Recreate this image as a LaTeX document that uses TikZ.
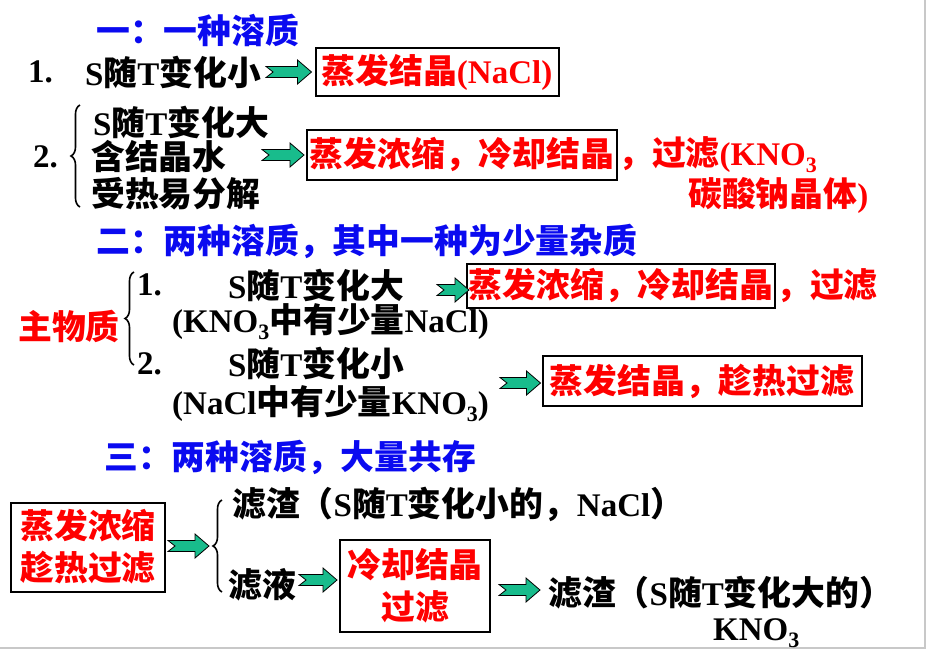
\documentclass[tikz,border=0pt]{standalone}
\usepackage{fontspec}
\setmainfont{Liberation Serif}
\newfontfamily\cjk[Scale=1.025]{Noto Sans CJK SC}
\usetikzlibrary{calc,decorations.pathreplacing}
\definecolor{arrowgreen}{RGB}{24,188,140}
\definecolor{titleblue}{RGB}{10,10,240}
\definecolor{slidegray}{RGB}{200,200,200}

% switch to the CJK font for Chinese characters
\XeTeXinterchartokenstate=1
\newXeTeXintercharclass\hanclass
\count255="20
\loop
  \XeTeXcharclass\count255=0
  \advance\count255 by 1
\ifnum\count255<"7F \repeat
\count255="3000
\loop
  \XeTeXcharclass\count255=\hanclass
  \advance\count255 by 1
\ifnum\count255<"A000 \repeat
\count255="FF00
\loop
  \XeTeXcharclass\count255=\hanclass
  \advance\count255 by 1
\ifnum\count255<"FFF0 \repeat
\XeTeXinterchartoks 0 \hanclass={\cjk}
\XeTeXinterchartoks 4095 \hanclass={\cjk}
\XeTeXinterchartoks \hanclass 0={\rmfamily}

\newcommand{\subthree}{\raisebox{-7pt}{\fontsize{22}{22}\selectfont 3}}
% notched block arrow from #1 to #2
\newcommand{\flowarrow}[2]{%
  \draw[blockarrow] let \p1=(#1), \p2=(#2) in
    (\x1,\y2+5.5pt) -- (\x2-14pt,\y2+5.5pt) -- (\x2-14pt,\y2+12pt) -- (\x2,\y2)
    -- (\x2-14pt,\y2-12pt) -- (\x2-14pt,\y2-5.5pt) -- (\x1,\y2-5.5pt) -- (\x1+7pt,\y2) -- cycle;}

\begin{document}
\begin{tikzpicture}[x=1pt,y=-1pt,
    every node/.style={inner sep=0pt,anchor=west,font=\bfseries\fontsize{33}{42}\selectfont},
    heading/.style={text=titleblue},
    redtxt/.style={text=red},
    result/.style={draw,line width=2pt,text=red,anchor=center,align=center},
    blockarrow/.style={fill=arrowgreen,draw=black,line width=0.8pt},
    bracket/.style={draw,line width=1.6pt,decorate,decoration={brace,amplitude=9pt}}]
  \useasboundingbox (0,0) rectangle (929,651);
  \draw[slidegray,line width=1.5pt] (925,0) -- (925,648) -- (0,648);

  % one solute
  \node[heading] (title1) at (96,30) {一：一种溶质};
  \node (num1) at (28,72) {1.};
  \node (cond1) at (85,72) {S随T变化小};
  \node[result,minimum width=243pt,minimum height=48pt] (box1) at (437,72) {蒸发结晶(NaCl)};
  \flowarrow{$(cond1.east)+(5,0)$}{$(box1.west)+(-3,0)$}

  \node (num2) at (33,157) {2.};
  \draw[bracket] (80,207) -- (80,105);
  \node (cond2a) at (93,122) {S随T变化大};
  \node (cond2b) at (91,157) {含结晶水};
  \node (cond2c) at (91,194) {受热易分解};
  \node[result,minimum width=310pt,minimum height=50pt] (box2) at (462,155) {蒸发浓缩，冷却结晶};
  \node[redtxt] (tail2) at (box2.east) {，过滤(KNO\subthree};
  \node[redtxt] (tail2b) at (688,195) {碳酸钠晶体)};
  \coordinate (start2) at (262,155);
  \flowarrow{start2}{$(box2.west)+(-2,0)$}

  % two solutes, one impurity
  \node[heading] (title2) at (96,241) {二：两种溶质，其中一种为少量杂质};
  \node[redtxt] (main) at (18,326) {主物质};
  \draw[bracket] (134,365) -- (134,272);
  \node (num3) at (137,285) {1.};
  \node (cond3) at (228,285) {S随T变化大};
  \node (mix3) at (172,322) {(KNO\subthree 中有少量NaCl)};
  \node[result,minimum width=308pt,minimum height=44pt] (box3) at (621,286) {蒸发浓缩，冷却结晶};
  \node[redtxt] (tail3) at (box3.east) {，过滤};
  \coordinate (start3) at (437,290);
  \flowarrow{start3}{$(box3.west)+(3,4)$}

  \node (num4) at (137,364) {2.};
  \node (cond4) at (228,363) {S随T变化小};
  \node (mix4) at (172,404) {(NaCl中有少量KNO\subthree)};
  \node[result,minimum width=319pt,minimum height=50pt] (box4) at (702,381) {蒸发结晶，趁热过滤};
  \coordinate (start4) at (500,383);
  \flowarrow{start4}{$(box4.west)+(-1,2)$}

  % two solutes, large amounts
  \node[heading] (title3) at (104,457) {三：两种溶质，大量共存};
  \node[result,minimum width=154pt,minimum height=89pt] (box5) at (88,547) {蒸发浓缩\\趁热过滤};
  \draw[bracket] (222,592) -- (222,500);
  \coordinate (tip5) at (209,546);
  \flowarrow{$(box5.east)+(2,0)$}{tip5}
  \node (res1) at (232,504) {滤渣（S随T变化小的，NaCl）};
  \node (liq) at (228,585) {滤液};
  \node[result,minimum width=150pt,minimum height=92pt] (box6) at (415,586) {冷却结晶\\过滤};
  \flowarrow{$(liq.east)+(3,0)$}{$(box6.west)+(-2,-6)$}
  \node (res2) at (548,593) {滤渣（S随T变化大的）};
  \node (res2b) at (713,633) {KNO\subthree};
  \flowarrow{$(box6.east)+(8,0)$}{$(res2.west)+(-8,-3)$}
\end{tikzpicture}
\end{document}
